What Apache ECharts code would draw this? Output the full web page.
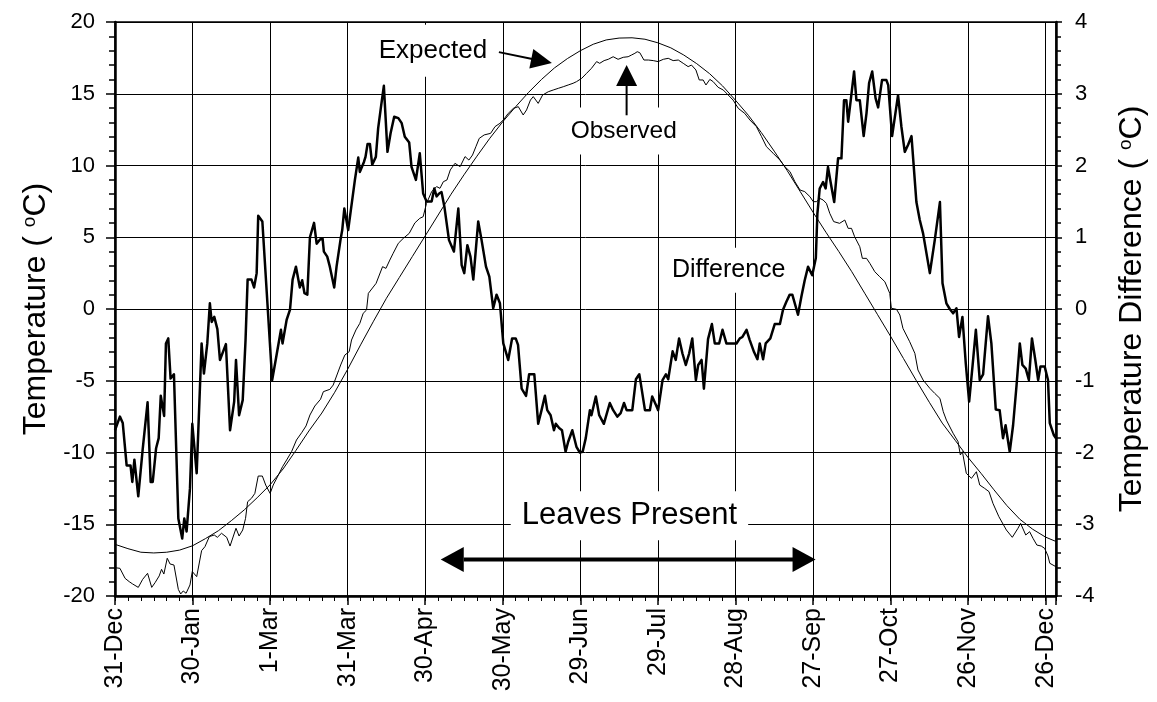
<!DOCTYPE html>
<html>
<head>
<meta charset="utf-8">
<script src="https://cdn.jsdelivr.net/npm/echarts/dist/echarts.min.js"></script>
<style>html,body{margin:0;padding:0;background:#fff}#c{width:1157px;height:702px}</style>
</head>
<body>
<div id="c"></div>
<script>
// ---------- data ----------
const xTickLabels = ['31-Dec','30-Jan','1-Mar','31-Mar','30-Apr','30-May','29-Jun','29-Jul','28-Aug','27-Sep','27-Oct','26-Nov','26-Dec'];
const tempTicks = [-20, 20, 5];      // min, max, step of left axis
const diffTicks = [-4, 4, 1];        // min, max, step of right axis
const dayRange = [0, 364];

// [day since 31-Dec, temperature degC]
const expectedSeries = [[0,-16.4],[5,-16.7],[10,-16.95],[15,-17.0],[20,-16.95],[25,-16.8],[30,-16.5],[35,-16.0],[40,-15.45],[45,-14.75],[50,-14.0],[55,-13.15],[60,-12.25],[65,-11.15],[70,-9.85],[75,-8.5],[80,-7.25],[85,-5.8],[90,-4.2],[95,-2.5],[100,-0.85],[105,0.75],[110,2.2],[115,3.65],[120,5.1],[125,6.55],[130,8.0],[135,9.35],[140,10.65],[145,11.9],[150,13.05],[155,14.1],[160,15.1],[165,16.0],[170,16.8],[175,17.45],[180,18.0],[185,18.45],[190,18.75],[195,18.88],[200,18.9],[205,18.8],[210,18.55],[215,18.2],[220,17.7],[225,17.1],[230,16.4],[235,15.55],[240,14.55],[245,13.5],[250,12.3],[255,11.0],[260,9.65],[265,8.2],[270,6.75],[275,5.35],[280,4.0],[285,2.6],[290,1.1],[295,-0.4],[300,-1.9],[305,-3.45],[310,-5.0],[315,-6.5],[320,-7.95],[325,-9.15],[330,-10.35],[335,-11.45],[340,-12.6],[345,-13.7],[350,-14.65],[355,-15.35],[360,-15.9],[364,-16.2]];

const observedSeries = [[0,-18.03],[1.9,-18.07],[3.9,-18.77],[5.5,-19.0],[6.8,-19.16],[7.3,-19.07],[9,-19.4],[10.7,-18.84],[12.6,-18.42],[14.2,-19.4],[15.5,-19.07],[17.1,-18.6],[18,-18.14],[18.9,-18.47],[20.2,-17.37],[21.3,-17.77],[22.8,-17.84],[24.5,-19.54],[25.4,-19.86],[26.4,-19.65],[27.5,-19.81],[29,-19.23],[29.9,-18.3],[31.6,-18.65],[33.5,-16.84],[34.8,-16.56],[36.5,-15.86],[38.4,-15.75],[39.6,-15.91],[41.2,-15.63],[43.2,-15.91],[44.5,-16.52],[46.8,-15.28],[48,-15.82],[49.4,-15.4],[50.5,-14.59],[51.3,-13.43],[52.8,-13.19],[54.1,-12.85],[55.4,-11.64],[57,-11.64],[58.3,-12.27],[60,-12.85],[61.2,-12.27],[63.2,-11.57],[64.8,-10.99],[66.4,-10.52],[68.3,-9.94],[70.2,-9.13],[72.2,-8.62],[73.9,-8.15],[75.4,-7.39],[77.3,-6.76],[79.5,-6.29],[80.6,-5.76],[83.1,-5.6],[84.4,-5.3],[85.7,-4.67],[87.3,-3.9],[88.9,-3.21],[90.6,-2.97],[91.5,-2.16],[93.2,-1.46],[94.7,-1.0],[96,-0.3],[97.3,-0.07],[98,1.09],[101,1.79],[103.5,2.95],[104.8,2.83],[106.3,3.41],[107.6,3.88],[109.6,4.58],[111.5,4.92],[113.8,5.27],[116,6.0],[117.9,6.32],[119.2,6.43],[120.5,7.36],[122.5,8.18],[124.4,8.53],[125.7,8.41],[127,8.87],[128.4,8.99],[129.7,9.69],[131.5,10.15],[133.5,9.92],[135.4,10.62],[136.9,10.38],[138.3,10.73],[139.6,11.31],[140.9,11.89],[142.8,12.13],[145.3,12.24],[147,12.71],[148.9,12.94],[150.2,13.17],[152.1,13.63],[154.1,13.98],[156,14.1],[157.9,13.52],[159.2,13.87],[160.7,14.56],[161.8,14.8],[163.7,14.33],[165.4,14.91],[167.6,15.14],[169.5,15.26],[171.5,15.38],[173.4,15.49],[175.3,15.61],[177.2,15.73],[178.5,15.84],[180.5,16.07],[182.4,16.42],[184.3,16.77],[186.3,17.24],[187.5,17.12],[189.2,17.31],[190.8,17.4],[192.7,17.58],[194.6,17.4],[196.6,17.54],[198.5,17.58],[199.8,17.7],[201.1,17.82],[202,17.93],[203,17.86],[204.6,17.35],[206.3,17.35],[208.2,17.31],[210.1,17.24],[212.1,17.4],[214,17.47],[215.9,17.31],[217.9,17.35],[219.8,17.12],[221.7,16.89],[223,17.0],[224.7,16.66],[226,15.96],[227.5,15.96],[228.6,15.61],[230.1,16.0],[231.4,15.84],[233.3,15.45],[235.3,15.26],[237.2,14.91],[239.1,14.56],[241.1,13.98],[243.6,13.63],[245.6,13.17],[248.1,12.71],[250.1,12.01],[252,11.31],[254.6,10.85],[257.2,10.38],[259.1,9.92],[261.1,9.57],[263,8.87],[265,8.29],[266.8,8.18],[268.8,7.83],[270.1,7.48],[271.4,7.48],[272.6,7.71],[273.9,7.6],[275.2,7.36],[276.5,6.66],[278,6.09],[280.3,5.97],[282.3,6.2],[283.6,5.62],[284.9,5.62],[286.1,5.04],[288.1,4.34],[289.1,3.53],[290.7,3.53],[292,3.18],[293.9,2.6],[295.8,2.25],[297.8,1.9],[299.7,1.09],[300.3,0.05],[302.3,-0.02],[303.6,-0.42],[304.8,-1.35],[307.4,-2.28],[309.4,-3.09],[310.6,-4.25],[312.6,-4.95],[315.2,-5.53],[317.1,-5.88],[319.1,-6.23],[320.4,-7.16],[321.6,-7.74],[324.2,-8.66],[326.1,-9.24],[327,-10.17],[327.8,-9.94],[329.3,-11.45],[331.3,-11.8],[333.2,-11.34],[334.5,-12.27],[336.4,-12.5],[338.1,-12.73],[339.6,-13.54],[341.9,-14.47],[344.8,-15.4],[347.1,-15.91],[349.3,-15.28],[350.3,-14.94],[352.3,-15.75],[353.8,-15.52],[355.1,-15.98],[356.6,-16.45],[358.3,-16.52],[359.6,-16.68],[360.9,-17.21],[361.6,-17.72],[364,-17.96]];

// [day since 31-Dec, difference degC] (right axis)
const differenceSeries = [[0,-1.69],[1.9,-1.5],[3,-1.59],[4.5,-2.18],[6,-2.18],[6.7,-2.41],[7.5,-2.1],[9,-2.61],[10.7,-1.96],[12.6,-1.3],[13.8,-2.41],[14.6,-2.41],[15.9,-1.94],[16.9,-1.8],[17.7,-1.21],[19,-1.49],[19.7,-0.48],[20.6,-0.41],[21.5,-0.97],[22.8,-0.91],[24.5,-2.92],[26,-3.2],[26.8,-2.92],[27.7,-3.1],[29,-2.5],[29.9,-1.6],[31.6,-2.29],[33.5,-0.48],[34.4,-0.9],[35.7,-0.48],[36.7,0.08],[37.4,-0.18],[38.4,-0.11],[39.6,-0.28],[40.6,-0.71],[41.2,-0.71],[42.9,-0.49],[44.5,-1.69],[46.1,-1.29],[46.8,-0.71],[48,-1.48],[49.4,-1.27],[50.5,-0.43],[51.3,0.41],[52.8,0.41],[53.8,0.3],[54.8,0.5],[55.4,1.3],[57,1.22],[60.8,-0.99],[62.5,-0.64],[64.2,-0.29],[64.8,-0.48],[66.4,-0.15],[67.7,-0.01],[68.7,0.41],[70,0.59],[71.5,0.3],[72.4,0.4],[73.3,0.22],[74.4,0.2],[75.4,1.0],[77,1.2],[78,0.91],[79.3,0.97],[80.3,0.98],[80.8,0.8],[82.1,0.73],[83.1,0.59],[84.8,0.3],[85.7,0.59],[87.3,0.98],[87.9,1.1],[88.7,1.4],[90.2,1.1],[90.9,1.1],[92.8,1.8],[94.1,2.11],[94.7,1.91],[96.3,2.05],[96.9,2.12],[97.7,2.3],[98.6,2.3],[99.5,2.01],[100.9,2.12],[101.8,2.52],[102.9,2.82],[104,3.11],[105.4,2.19],[106.6,2.45],[108,2.68],[109.6,2.66],[110.9,2.59],[112.1,2.4],[113.8,2.32],[114.7,1.98],[116.4,1.8],[117.9,2.17],[119.2,1.61],[120.5,1.5],[122.5,1.5],[123.5,1.68],[124.4,1.57],[125.4,1.61],[126.3,1.63],[127.4,1.43],[129.2,0.96],[131.1,0.8],[132.8,1.4],[134.1,0.61],[135.1,0.5],[136.3,0.89],[137.5,0.73],[138.6,0.41],[140.5,1.22],[141.8,0.96],[143.5,0.59],[144.8,0.45],[146.3,0.01],[147.6,0.2],[148.9,0.08],[150.2,-0.48],[152.1,-0.71],[153.6,-0.41],[155,-0.41],[155.9,-0.5],[157.3,-1.11],[159,-1.21],[160.2,-0.91],[162.2,-0.91],[163.7,-1.6],[165,-1.41],[166.3,-1.21],[167.2,-1.41],[168.5,-1.48],[169.8,-1.69],[170.5,-1.6],[171.8,-1.66],[172.9,-1.69],[174.3,-1.99],[175.3,-1.85],[176.9,-1.69],[178.5,-1.92],[179.8,-2.0],[180.9,-1.99],[182.1,-1.8],[183.7,-1.41],[184.3,-1.48],[186,-1.22],[187.3,-1.48],[189.1,-1.6],[191.4,-1.31],[192.7,-1.41],[194.3,-1.5],[195.6,-1.45],[196.9,-1.31],[197.9,-1.41],[200.1,-1.41],[201.5,-0.98],[202.8,-0.91],[203.4,-1.04],[205,-1.41],[206.9,-1.41],[207.8,-1.22],[209.5,-1.36],[210.1,-1.41],[211.8,-0.99],[213.1,-0.91],[214,-0.98],[215.7,-0.59],[216.9,-0.71],[218.2,-0.41],[219.5,-0.62],[220.8,-0.78],[222.1,-0.62],[223.3,-0.41],[224.7,-0.99],[225.6,-0.78],[226.9,-0.71],[227.8,-1.11],[229.4,-0.42],[230.9,-0.21],[232,-0.48],[233.7,-0.48],[235,-0.29],[236.5,-0.48],[240.4,-0.48],[241.7,-0.41],[242.7,-0.39],[244.3,-0.29],[245.5,-0.43],[247.2,-0.6],[248.5,-0.7],[249.4,-0.48],[250.7,-0.7],[251.7,-0.48],[253.5,-0.41],[255.2,-0.21],[257.2,-0.21],[258.4,-0.01],[259.7,0.1],[261,0.2],[262,0.2],[264.2,-0.08],[265.5,0.17],[266.8,0.4],[268.1,0.59],[269.7,0.47],[271.1,0.71],[271.7,1.33],[272.6,1.68],[273.9,1.77],[274.9,1.68],[275.8,1.98],[276.8,1.77],[278.2,1.49],[279.7,2.1],[281,2.1],[282,2.91],[282.9,2.91],[283.6,2.61],[284.6,2.91],[285.9,3.31],[286.8,2.91],[288.1,2.91],[289.6,2.41],[290.7,2.73],[291.7,3.15],[292.9,3.31],[294.2,2.94],[295.2,2.81],[296.7,3.19],[298.4,3.19],[299.1,3.12],[300.6,2.41],[302.9,2.98],[304.2,2.54],[305.5,2.19],[306.8,2.29],[308.1,2.41],[310,1.49],[311.3,1.24],[312.6,1.05],[315.2,0.5],[317.1,0.96],[319.1,1.49],[320.1,0.36],[321.6,0.08],[322.9,0.0],[324.2,-0.06],[325.5,0.01],[326.5,-0.39],[327.8,-0.11],[329.1,-0.76],[330.4,-1.29],[331.7,-0.8],[333,-0.29],[334.5,-0.99],[335.8,-0.91],[337.7,-0.1],[339,-0.48],[340.7,-1.4],[342.2,-1.41],[343.5,-1.8],[344.5,-1.62],[346.1,-1.99],[347.4,-1.62],[348.7,-1.08],[350,-0.48],[351,-0.78],[352.3,-0.83],[353.5,-0.99],[354.7,-0.41],[356,-0.71],[357.1,-0.99],[358,-0.8],[359.6,-0.8],[360.9,-0.99],[361.6,-1.59],[363.2,-1.76],[364,-1.8]];

// ---------- annotations (in data units: [day, temperature]) ----------
const notes = {
  expectedLabel: [123, 18.0],
  expectedArrow: [[148.5, 17.9], [169, 17.15]],
  observedLabel: [196.8, 12.4],
  observedArrow: [[197.9, 13.5], [197.9, 17.0]],
  differenceLabel: [237.4, 2.7],
  leavesLabel: [199, -14.4],
  leavesArrow: [[126, -17.45], [271, -17.45]]
};

const FONT = '"Liberation Sans", Arial, Helvetica, sans-serif';
const chart = echarts.init(document.getElementById('c'), null, {renderer: 'canvas'});

const lineBase = {type: 'line', showSymbol: false, symbol: 'none', animation: false, clip: true};
const titleStyle = {fontSize: 32, fontFamily: FONT, color: '#000', rich: {s: {fontSize: 19, fontFamily: FONT, color: '#000', verticalAlign: 'top'}}};

const option = {
  animation: false,
  backgroundColor: '#fff',
  textStyle: {fontFamily: FONT, color: '#000'},
  grid: {left: 115, right: 101, top: 22, bottom: 106, show: true, borderColor: '#000', borderWidth: 1.5, containLabel: false, outerBoundsMode: 'none'},
  xAxis: [{
    type: 'value', min: dayRange[0], max: dayRange[1], interval: 30,
    axisLine: {show: true, onZero: false, lineStyle: {color: '#000', width: 2.5}},
    axisTick: {show: true, length: 9, lineStyle: {color: '#000', width: 1.5}},
    axisLabel: {rotate: 90, margin: 12, fontSize: 25, fontFamily: FONT, color: '#000',
      formatter: v => (Math.abs(v % 30) < 1e-6 ? (xTickLabels[Math.round(v / 30)] || '') : '')},
    splitLine: {show: true, lineStyle: {color: '#000', width: 1}}
  }, {
    type: 'value', min: dayRange[0], max: dayRange[1], interval: 5, position: 'bottom',
    axisLine: {show: false, onZero: false},
    axisTick: {show: true, length: 5, lineStyle: {color: '#000', width: 1}},
    axisLabel: {show: false}, splitLine: {show: false}
  }],
  yAxis: [{
    type: 'value', min: tempTicks[0], max: tempTicks[1], interval: tempTicks[2], position: 'left',
    name: 'Temperature ( {s|o}C)', nameLocation: 'middle', nameRotate: 90, nameGap: 62,
    nameTextStyle: titleStyle,
    axisLine: {show: true, onZero: false, lineStyle: {color: '#000', width: 2.5}},
    axisTick: {show: true, length: 9, lineStyle: {color: '#000', width: 1.5}},
    minorTick: {show: true, splitNumber: 5, length: 6, lineStyle: {color: '#000', width: 1.5}},
    axisLabel: {fontSize: 22, margin: 20, fontFamily: FONT, color: '#000'},
    splitLine: {show: true, lineStyle: {color: '#000', width: 1}}
  }, {
    type: 'value', min: diffTicks[0], max: diffTicks[1], interval: diffTicks[2], position: 'right',
    name: 'Temperature Difference ( {s|o}C)', nameLocation: 'middle', nameRotate: 90, nameGap: 60,
    nameTextStyle: titleStyle,
    axisLine: {show: true, onZero: false, lineStyle: {color: '#000', width: 2.5}},
    axisTick: {show: true, length: 6, lineStyle: {color: '#000', width: 1.5}},
    minorTick: {show: true, splitNumber: 5, length: 5, lineStyle: {color: '#000', width: 1.5}},
    axisLabel: {fontSize: 22, margin: 19, fontFamily: FONT, color: '#000'},
    splitLine: {show: false}
  }],
  series: [
    Object.assign({}, lineBase, {name: 'Expected', xAxisIndex: 0, yAxisIndex: 0, data: expectedSeries, lineStyle: {color: '#000', width: 1}, z: 3}),
    Object.assign({}, lineBase, {name: 'Observed', xAxisIndex: 0, yAxisIndex: 0, data: observedSeries, lineStyle: {color: '#000', width: 1}, z: 3}),
    Object.assign({}, lineBase, {name: 'Difference', xAxisIndex: 0, yAxisIndex: 1, data: differenceSeries, lineStyle: {color: '#000', width: 2.5, join: 'round'}, z: 4})
  ]
};
chart.setOption(option);

// ---------- annotation graphics placed through the axes ----------
const px = p => chart.convertToPixel({xAxisIndex: 0, yAxisIndex: 0}, p);
const g = [];
function label(text, at, size, pad) {
  const p = px(at);
  g.push({type: 'text', x: p[0], y: p[1], z: 100,
    style: {text: text, font: size + 'px ' + FONT, fill: '#000', align: 'center', verticalAlign: 'middle', backgroundColor: '#fff', padding: pad}});
}
function head(tip, ux, uy, len, half) {
  const bx = tip[0] - ux * len, by = tip[1] - uy * len;
  g.push({type: 'polygon', z: 101, shape: {points: [[tip[0], tip[1]], [bx - uy * half, by + ux * half], [bx + uy * half, by - ux * half]]}, style: {fill: '#000'}});
  return [bx, by];
}
function arrow(from, to, lw, len, half, both) {
  const a = px(from), b = px(to);
  const dx = b[0] - a[0], dy = b[1] - a[1], L = Math.hypot(dx, dy);
  const ux = dx / L, uy = dy / L;
  const e = head(b, ux, uy, len, half);
  let s = a;
  if (both) s = head(a, -ux, -uy, len, half);
  g.push({type: 'line', z: 101, shape: {x1: s[0], y1: s[1], x2: e[0] + ux, y2: e[1] + uy}, style: {stroke: '#000', lineWidth: lw}});
}
label('Expected', notes.expectedLabel, 26, [13, 8]);
label('Observed', notes.observedLabel, 24.5, [11, 8]);
label('Difference', notes.differenceLabel, 25, [10, 8]);
label('Leaves Present', notes.leavesLabel, 31, [9, 11]);
arrow(notes.expectedArrow[0], notes.expectedArrow[1], 2, 21, 10, false);
arrow(notes.observedArrow[0], notes.observedArrow[1], 2, 21, 10.5, false);
arrow(notes.leavesArrow[0], notes.leavesArrow[1], 4, 23, 12.5, true);
chart.setOption({graphic: g});
</script>
</body>
</html>
